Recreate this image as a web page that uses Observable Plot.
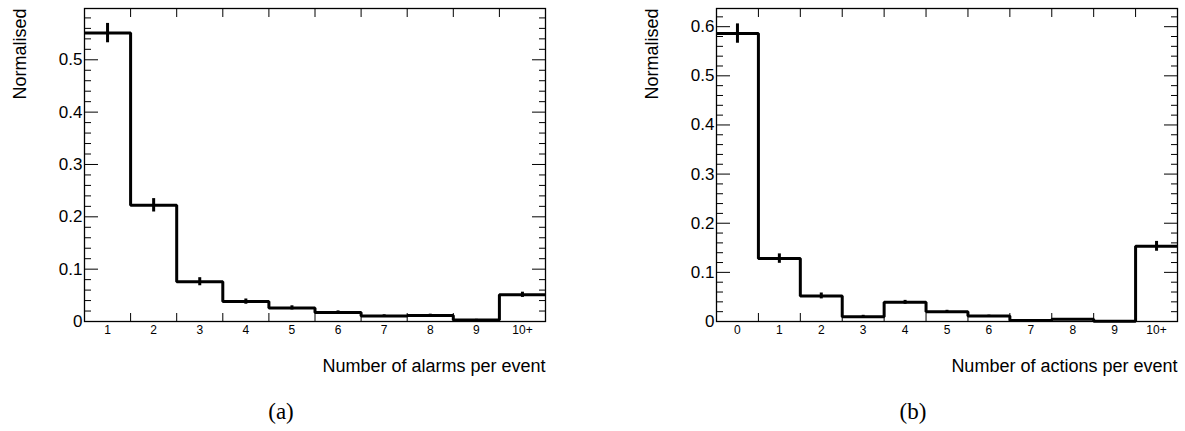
<!DOCTYPE html>
<html><head><meta charset="utf-8">
<script src="https://cdn.jsdelivr.net/npm/d3@7"></script>
<script src="https://cdn.jsdelivr.net/npm/@observablehq/plot@0.6"></script>
<style>
body{margin:0;background:#fff;}
#wrap{position:relative;width:1185px;height:431px;overflow:hidden;background:#fff;}
.panel{position:absolute;top:0;}
.cap{position:absolute;font-family:"Liberation Serif","DejaVu Serif",serif;font-size:23px;line-height:23px;color:#000;transform:translateX(-50%);white-space:nowrap;}
</style></head><body><div id="wrap"></div>
<script>
// ---- data (a): number of alarms per event ----
const alarmLabels = ["1","2","3","4","5","6","7","8","9","10+"];
const alarmValues = [0.551, 0.222, 0.076, 0.038, 0.026, 0.0173, 0.0103, 0.0115, 0.0027, 0.051];
const alarmErrors = [0.0185, 0.0128, 0.0077, 0.005, 0.004, 0.003, 0.0025, 0.0025, 0.0015, 0.005];
const alarmYTicks = [0, 0.1, 0.2, 0.3, 0.4, 0.5];
const alarmYMax = 0.598;
const alarmTitle = "Number of alarms per event";

// ---- data (b): number of actions per event ----
const actionLabels = ["0","1","2","3","4","5","6","7","8","9","10+"];
const actionValues = [0.586, 0.128, 0.052, 0.0096, 0.039, 0.0198, 0.011, 0.002, 0.0045, 0.0005, 0.153];
const actionErrors = [0.0197, 0.0096, 0.006, 0.003, 0.004, 0.003, 0.002, 0.001, 0.0015, 0.001, 0.01];
const actionYTicks = [0, 0.1, 0.2, 0.3, 0.4, 0.5, 0.6];
const actionYMax = 0.637;
const actionTitle = "Number of actions per event";

const yTitle = "Normalised";
const captions = ["(a)", "(b)"];

const FONT = "'Liberation Sans', Arial, Helvetica, sans-serif";

function histPanel({labels, values, errors, first, yMax, yTicks, xTitle, width, marginRight}) {
  const n = labels.length;
  const centers = labels.map((_, i) => first + i);
  const lo = first - 0.5, hi = first + n - 0.5;
  const edges = centers.slice(1).map(c => c - 0.5);
  const step = centers.map((c, i) => ({x: c - 0.5, y: values[i]}))
    .concat([{x: hi, y: values[n - 1]}]);
  const idx = d3.range(n);
  const minor = d3.range(0, yMax, 0.02).filter(v => Math.abs(v * 10 - Math.round(v * 10)) > 1e-6);
  const fmtY = d => d === 0 ? "0" : d3.format(".1f")(d);
  const tk = {text: null, label: null, stroke: "#000", strokeWidth: 1};
  return Plot.plot({
    width, height: 390,
    marginLeft: 84, marginRight, marginTop: 8, marginBottom: 69,
    style: {fontFamily: FONT, background: "#fff", color: "#000", overflow: "visible"},
    x: {domain: [lo, hi]},
    y: {domain: [0, yMax]},
    marks: [
      // inner ticks (shifted inside the frame)
      Plot.axisY(yTicks, {anchor: "left", tickSize: 14, dx: 14, ...tk}),
      Plot.axisY(minor, {anchor: "left", tickSize: 7, dx: 7, ...tk}),
      Plot.axisY(yTicks, {anchor: "right", tickSize: 14, dx: -14, ...tk}),
      Plot.axisY(minor, {anchor: "right", tickSize: 7, dx: -7, ...tk}),
      Plot.axisX(edges, {anchor: "bottom", tickSize: 8, dy: -8, ...tk}),
      Plot.axisX(edges, {anchor: "top", tickSize: 8, dy: 8, ...tk}),
      // tick labels
      Plot.axisY(yTicks, {anchor: "left", tickSize: 0, tickPadding: 2, tickFormat: fmtY, fontSize: 17, fill: "#000", label: null}),
      Plot.axisX(centers, {anchor: "bottom", tickSize: 0, tickPadding: 4, tickFormat: c => labels[c - first], fontSize: 12, fill: "#000", label: null}),
      Plot.frame({stroke: "#000", strokeWidth: 1.3}),
      // histogram
      Plot.ruleX(idx, {x: i => centers[i], y1: i => values[i] - errors[i], y2: i => values[i] + errors[i], stroke: "#000", strokeWidth: 3}),
      Plot.line(step, {x: "x", y: "y", curve: "step-after", stroke: "#000", strokeWidth: 3, strokeLinejoin: "miter", strokeLinecap: "butt"}),
      // titles
      Plot.text([yTitle], {frameAnchor: "top-left", rotate: -90, textAnchor: "end", lineAnchor: "bottom", dx: -59, fontSize: 18, fill: "#000"}),
      Plot.text([xTitle], {frameAnchor: "bottom-right", textAnchor: "end", lineAnchor: "bottom", dy: 50, fontSize: 18, fill: "#000"})
    ]
  });
}

const wrap = document.getElementById("wrap");
const pa = histPanel({labels: alarmLabels, values: alarmValues, errors: alarmErrors, first: 1,
  yMax: alarmYMax, yTicks: alarmYTicks, xTitle: alarmTitle, width: 600, marginRight: 55});
pa.classList.add("panel"); pa.style.left = "0px";
wrap.appendChild(pa);
const pb = histPanel({labels: actionLabels, values: actionValues, errors: actionErrors, first: 0,
  yMax: actionYMax, yTicks: actionYTicks, xTitle: actionTitle, width: 553, marginRight: 8});
pb.classList.add("panel"); pb.style.left = "632px";
wrap.appendChild(pb);

[[281, captions[0]], [913, captions[1]]].forEach(([x, t]) => {
  const d = document.createElement("div");
  d.className = "cap"; d.textContent = t;
  d.style.left = x + "px"; d.style.top = "400px";
  wrap.appendChild(d);
});
</script></body></html>
